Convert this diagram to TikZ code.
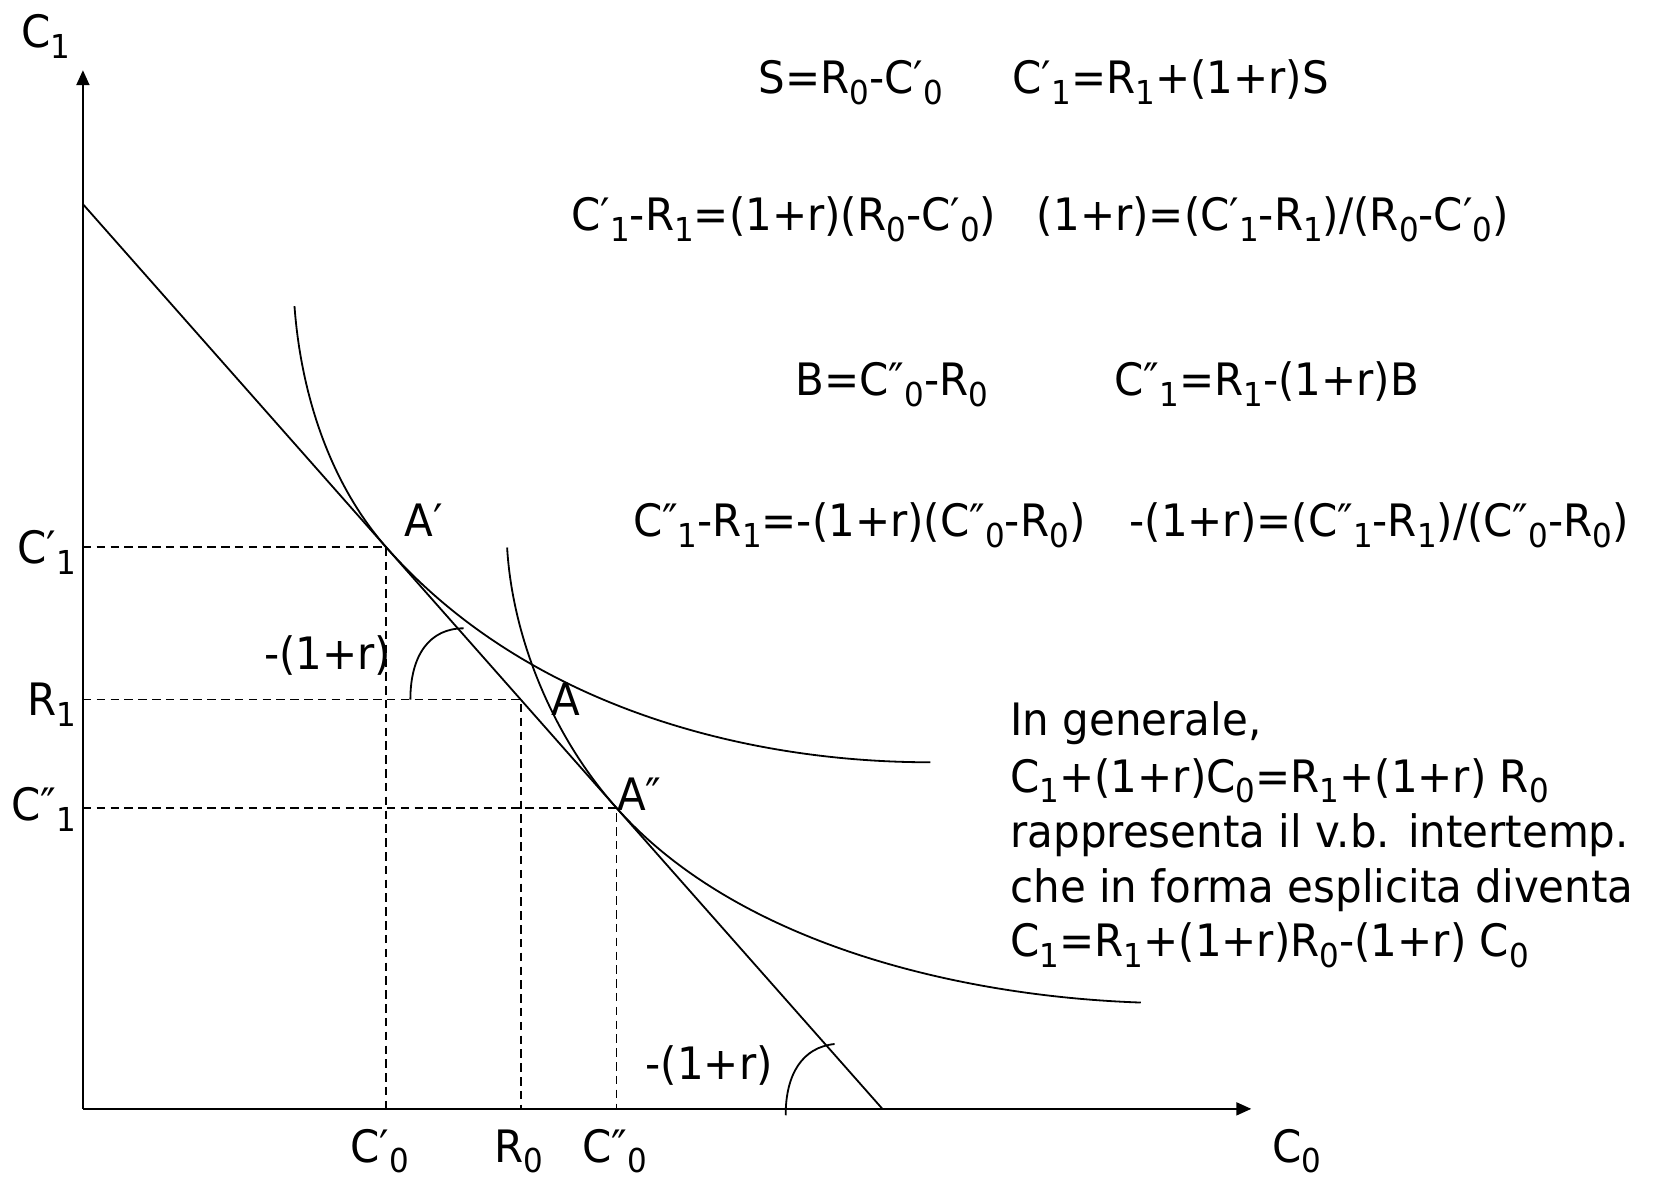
\documentclass[tikz,border=0pt]{standalone}
\usepackage{fontspec}
\setmainfont{DejaVu Sans}[FakeStretch=0.94]
\usetikzlibrary{arrows.meta}
\newcommand{\dsub}[1]{\raisebox{-0.24em}{\fontsize{15.5}{15.5}\selectfont #1}}
\newcommand{\pr}{′}
\newcommand{\ppr}{″}
\begin{document}
\begin{tikzpicture}[x=0.5pt,y=-0.5pt,
  txt/.style={inner sep=0pt, font=\fontsize{21}{26}\selectfont},
  axis/.style={line width=1.1pt, -{Triangle[length=7pt,width=6pt]}},
  curve/.style={line width=0.85pt},
  guide/.style={line width=0.75pt, dash pattern=on 4pt off 2.5pt}]
\useasboundingbox (0,0) rectangle (1568,1109);
% axes
\coordinate (O) at (78,1043);
\coordinate (Ytop) at (78,66);
\coordinate (Xend) at (1177,1043);
\draw[axis] (O) -- (Ytop);
\draw[axis] (O) -- (Xend);
% budget line
\coordinate (L1) at (78,192);
\coordinate (L2) at (830,1043);
\draw[curve] (L1) -- (L2);
% points
\coordinate (Ap) at (363,514.4);
\coordinate (A) at (490,658.1);
\coordinate (App) at (580,760);
\coordinate (yAp) at (78,514.4);
\coordinate (yA) at (78,658.1);
\coordinate (yApp) at (78,760);
\coordinate (xAp) at (363,1043);
\coordinate (xA) at (490,1043);
\coordinate (xApp) at (580,1043);
\draw[guide] (yAp) -- (Ap) -- (xAp);
\draw[guide] (yA) -- (A) -- (xA);
\draw[guide] (yApp) -- (App) -- (xApp);
% indifference curves
\coordinate (I1s) at (277,288);
\coordinate (I1e) at (875,717);
\coordinate (I2s) at (477,515);
\coordinate (I2e) at (1073,943);
\draw[curve] (I1s) .. controls (283,370) and (310,454) .. (Ap)
  .. controls (495,664) and (700,717) .. (I1e);
\draw[curve] (I2s) .. controls (482,600) and (520,693) .. (App)
  .. controls (693,887) and (900,937) .. (I2e);
% angle arcs
\coordinate (a1s) at (386,658.1);
\coordinate (a1e) at (436,591);
\draw[curve] (a1s) .. controls (386,615) and (405,591) .. (a1e);
\coordinate (a2s) at (739,1049);
\coordinate (a2e) at (785,982);
\draw[curve] (a2s) .. controls (739,1010) and (755,985) .. (a2e);
% axis labels
\node[txt, anchor=base west] (lC1) at (20,45) {C\dsub{1}};
\node[txt, anchor=base] (lC0) at (1220,1093) {C\dsub{0}};
\node[txt, anchor=base east] (lCp1) at (72,530) {C\pr\dsub{1}};
\node[txt, anchor=base east] (lR1) at (72,673) {R\dsub{1}};
\node[txt, anchor=base east] (lCpp1) at (72,772) {C\ppr\dsub{1}};
\node[txt, anchor=base] (lCp0) at (357,1093) {C\pr\dsub{0}};
\node[txt, anchor=base] (lR0) at (488,1093) {R\dsub{0}};
\node[txt, anchor=base] (lCpp0) at (578,1093) {C\ppr\dsub{0}};
% point labels
\node[txt, anchor=base west] (tAp) at (380,505) {A\pr};
\node[txt, anchor=base] (tA) at (532,673) {A};
\node[txt, anchor=base west] (tApp) at (580,762) {A\ppr};
\node[txt, anchor=base west] (ang1) at (248,630) {-(1+r)};
\node[txt, anchor=base west] (ang2) at (607,1015) {-(1+r)};
% equations
\node[txt, anchor=base west] (eq1a) at (713,88) {S=R\dsub{0}-C\pr\dsub{0}};
\node[txt, anchor=base west] (eq1b) at (952,88) {C\pr\dsub{1}=R\dsub{1}+(1+r)S};
\node[txt, anchor=base west] (eq2a) at (537,217) {C\pr\dsub{1}-R\dsub{1}=(1+r)(R\dsub{0}-C\pr\dsub{0})};
\node[txt, anchor=base west] (eq2b) at (975,217) {(1+r)=(C\pr\dsub{1}-R\dsub{1})/(R\dsub{0}-C\pr\dsub{0})};
\node[txt, anchor=base west] (eq3a) at (748,372) {B=C\ppr\dsub{0}-R\dsub{0}};
\node[txt, anchor=base west] (eq3b) at (1048,372) {C\ppr\dsub{1}=R\dsub{1}-(1+r)B};
\node[txt, anchor=base west] (eq4a) at (595,505) {C\ppr\dsub{1}-R\dsub{1}=-(1+r)(C\ppr\dsub{0}-R\dsub{0})};
\node[txt, anchor=base west] (eq4b) at (1062,505) {-(1+r)=(C\ppr\dsub{1}-R\dsub{1})/(C\ppr\dsub{0}-R\dsub{0})};
% general note
\node[txt, anchor=base west] (g1) at (950,692) {In generale,};
\node[txt, anchor=base west] (g2) at (950,745) {C\dsub{1}+(1+r)C\dsub{0}=R\dsub{1}+(1+r) R\dsub{0}};
\node[txt, anchor=base west] (g3) at (950,797) {rappresenta il v.b. intertemp.};
\node[txt, anchor=base west] (g4) at (950,849) {che in forma esplicita diventa};
\node[txt, anchor=base west] (g5) at (950,900) {C\dsub{1}=R\dsub{1}+(1+r)R\dsub{0}-(1+r) C\dsub{0}};
\end{tikzpicture}
\end{document}
